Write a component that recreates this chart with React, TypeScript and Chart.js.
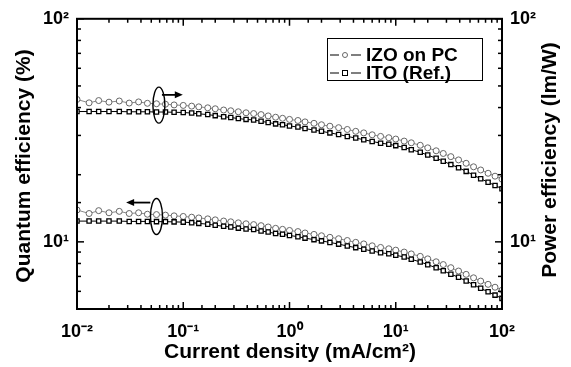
import React, { useEffect, useRef } from "react";
import { Chart, registerables } from "chart.js";
Chart.register(...registerables);

// Current density (mA/cm2)
const currentDensity = [
  0.010, 0.013, 0.016, 0.020, 0.025, 0.031, 0.038, 0.046, 0.056, 0.068, 0.082,
  0.10, 0.12, 0.14, 0.17, 0.20, 0.24, 0.28, 0.33, 0.39,
  0.46, 0.54, 0.63, 0.74, 0.86,
  1.0, 1.2, 1.4, 1.7, 2.0,
  2.4, 2.9, 3.5, 4.2, 5.0,
  6.0, 7.2, 8.6, 10, 12,
  14, 17, 20, 24, 28,
  33, 39, 46, 54, 63,
  74, 86, 100,
];

// Power efficiency (lm/W), right axis
const powerIZO = [
  43.5, 42.0, 43.0, 42.3, 42.8, 41.9, 42.4, 41.8, 41.6, 41.4, 41.1,
  40.9, 40.6, 40.3, 39.9, 39.5, 39.0, 38.7, 38.3, 37.9,
  37.6, 37.2, 36.7, 36.2, 35.8,
  35.4, 35.0, 34.5, 34.0, 33.5,
  33.0, 32.5, 31.9, 31.3, 30.8,
  30.2, 29.7, 29.3, 28.9, 28.3,
  27.8, 27.1, 26.4, 25.6, 24.9,
  24.1, 23.3, 22.5, 21.7, 21.0,
  20.3, 19.7, 19.1,
];
const powerITO = [
  38.4, 38.4, 38.4, 38.4, 38.4, 38.3, 38.3, 38.3, 38.2, 38.2, 38.1,
  38.0, 37.8, 37.5, 37.2, 36.8, 36.4, 36.1, 35.7, 35.4,
  35.2, 34.7, 34.3, 33.8, 33.5,
  33.1, 32.7, 32.2, 31.7, 31.3,
  30.8, 30.3, 29.7, 29.2, 28.7,
  28.2, 27.7, 27.4, 27.0, 26.5,
  25.9, 25.2, 24.5, 23.7, 23.0,
  22.2, 21.5, 20.7, 19.9, 19.2,
  18.5, 17.9, 17.3,
];

// Quantum efficiency (%), left axis
const quantumIZO = [
  13.9, 13.4, 13.8, 13.5, 13.7, 13.4, 13.5, 13.3, 13.25, 13.18, 13.08,
  13.0, 12.9, 12.8, 12.68, 12.55, 12.4, 12.3, 12.17, 12.05,
  11.95, 11.82, 11.66, 11.5, 11.38,
  11.25, 11.12, 10.96, 10.8, 10.65,
  10.48, 10.33, 10.14, 9.95, 9.79,
  9.6, 9.44, 9.31, 9.18, 9.0,
  8.83, 8.61, 8.39, 8.14, 7.91,
  7.66, 7.4, 7.15, 6.9, 6.67,
  6.45, 6.26, 6.07,
];
const quantumITO = [
  12.39, 12.39, 12.39, 12.39, 12.39, 12.35, 12.35, 12.35, 12.32, 12.32, 12.29,
  12.26, 12.19, 12.10, 12.00, 11.87, 11.74, 11.65, 11.52, 11.42,
  11.35, 11.19, 11.06, 10.90, 10.81,
  10.68, 10.55, 10.39, 10.23, 10.10,
  9.94, 9.77, 9.58, 9.42, 9.26,
  9.10, 8.94, 8.84, 8.71, 8.55,
  8.35, 8.13, 7.90, 7.65, 7.42,
  7.16, 6.94, 6.68, 6.42, 6.19,
  5.97, 5.77, 5.58,
];

const xDecadeLabels: Record<string, string> = {
  "-2": "10\u207B\u00B2",
  "-1": "10\u207B\u00B9",
  "0": "10\u2070",
  "1": "10\u00B9",
  "2": "10\u00B2",
};
const yDecadeLabels: Record<string, string> = {
  "1": "10\u00B9",
  "2": "10\u00B2",
};

const seriesNames = ["IZO on PC", "ITO (Ref.)"];
const xTitle = "Current density (mA/cm\u00B2)";
const yLeftTitle = "Quantum efficiency (%)";
const yRightTitle = "Power efficiency (lm/W)";

// annotation anchors in data units
const ellipses = [
  { x: 0.059, y: 41, axis: "y2" },
  { x: 0.056, y: 13.0, axis: "y" },
];
const arrows = [
  { x0: 0.063, x1: 0.099, y: 45.6, axis: "y2" },
  { x0: 0.049, x1: 0.029, y: 15.0, axis: "y" },
];

const FONT = "'Liberation Sans', Arial, Helvetica, sans-serif";

function decadeLabel(map: Record<string, string>) {
  return (value: any) => {
    const v = Number(value);
    const e = Math.log10(v);
    const r = Math.round(e);
    if (Math.abs(e - r) < 1e-6 && map[String(r)] !== undefined) return map[String(r)];
    return "";
  };
}

const decorPlugin = {
  id: "decor",
  afterDraw(chart: any) {
    const ctx = chart.ctx as CanvasRenderingContext2D;
    const a = chart.chartArea;
    const xs = chart.scales.x;
    const yl = chart.scales.y;
    const yr = chart.scales.y2;
    ctx.save();
    ctx.strokeStyle = "#000";
    ctx.fillStyle = "#000";

    // ticks (inward)
    ctx.lineWidth = 1.5;
    const isMajor = (v: number) => {
      const e = Math.log10(v);
      return Math.abs(e - Math.round(e)) < 1e-6;
    };
    xs.ticks.forEach((t: any) => {
      const px = xs.getPixelForValue(t.value);
      const len = isMajor(t.value) ? 7 : 4;
      ctx.beginPath();
      ctx.moveTo(px, a.bottom);
      ctx.lineTo(px, a.bottom - len);
      ctx.moveTo(px, a.top);
      ctx.lineTo(px, a.top + len);
      ctx.stroke();
    });
    yl.ticks.forEach((t: any) => {
      const py = yl.getPixelForValue(t.value);
      const len = isMajor(t.value) ? 7 : 4;
      ctx.beginPath();
      ctx.moveTo(a.left, py);
      ctx.lineTo(a.left + len, py);
      ctx.stroke();
    });
    yr.ticks.forEach((t: any) => {
      const py = yr.getPixelForValue(t.value);
      const len = isMajor(t.value) ? 7 : 4;
      ctx.beginPath();
      ctx.moveTo(a.right, py);
      ctx.lineTo(a.right - len, py);
      ctx.stroke();
    });

    // frame
    ctx.lineWidth = 2;
    ctx.strokeRect(a.left, a.top, a.right - a.left, a.bottom - a.top);

    // axis titles
    ctx.font = `bold 21px ${FONT}`;
    ctx.textAlign = "center";
    ctx.textBaseline = "middle";
    ctx.fillText(xTitle, 290, 352);
    ctx.save();
    ctx.translate(24, 166);
    ctx.rotate(-Math.PI / 2);
    ctx.fillText(yLeftTitle, 0, 0);
    ctx.restore();
    ctx.save();
    ctx.translate(550, 160);
    ctx.rotate(-Math.PI / 2);
    ctx.fillText(yRightTitle, 0, 0);
    ctx.restore();

    // legend
    ctx.lineWidth = 1;
    ctx.strokeRect(327.5, 38.5, 155, 42);
    const rows = [55, 73];
    rows.forEach((ry, i) => {
      ctx.lineWidth = 1.2;
      ctx.strokeStyle = "#000";
      ctx.beginPath();
      ctx.moveTo(330, ry);
      ctx.lineTo(339, ry);
      ctx.moveTo(351, ry);
      ctx.lineTo(361, ry);
      ctx.stroke();
      if (i === 0) {
        ctx.strokeStyle = "#666";
        ctx.lineWidth = 1;
        ctx.beginPath();
        ctx.arc(345, ry, 2.5, 0, Math.PI * 2);
        ctx.stroke();
      } else {
        ctx.strokeStyle = "#000";
        ctx.lineWidth = 1;
        ctx.strokeRect(342.5, ry - 2.5, 5, 5);
      }
      ctx.fillStyle = "#000";
      ctx.font = `bold 19px ${FONT}`;
      ctx.textAlign = "left";
      ctx.textBaseline = "middle";
      ctx.fillText(seriesNames[i], 366, ry + 1);
    });

    // ellipses and arrows
    ctx.strokeStyle = "#000";
    ctx.lineWidth = 1.4;
    ellipses.forEach((e) => {
      const sc = chart.scales[e.axis];
      const cx = xs.getPixelForValue(e.x);
      const cy = sc.getPixelForValue(e.y);
      ctx.beginPath();
      ctx.ellipse(cx, cy, 6, 18, 0, 0, Math.PI * 2);
      ctx.stroke();
    });
    arrows.forEach((ar) => {
      const sc = chart.scales[ar.axis];
      const x0 = xs.getPixelForValue(ar.x0);
      const x1 = xs.getPixelForValue(ar.x1);
      const y = sc.getPixelForValue(ar.y);
      const dir = x1 > x0 ? 1 : -1;
      ctx.lineWidth = 1.8;
      ctx.beginPath();
      ctx.moveTo(x0, y);
      ctx.lineTo(x1 - dir * 5, y);
      ctx.stroke();
      ctx.beginPath();
      ctx.moveTo(x1, y);
      ctx.lineTo(x1 - dir * 8, y - 3.5);
      ctx.lineTo(x1 - dir * 8, y + 3.5);
      ctx.closePath();
      ctx.fill();
    });
    ctx.restore();
  },
};

export default function App() {
  const ref = useRef<HTMLCanvasElement>(null);
  useEffect(() => {
    if (!ref.current) return;
    const mk = (ys: number[]) => currentDensity.map((x, i) => ({ x, y: ys[i] }));
    const circle = {
      pointStyle: "circle",
      pointRadius: 3,
      pointBorderWidth: 1,
      pointBorderColor: "#666",
      pointBackgroundColor: "#fff",
      borderColor: "#888",
      borderWidth: 1,
      showLine: true,
      order: 1,
    };
    const square = {
      pointStyle: "rect",
      pointRadius: 3,
      pointBorderWidth: 1.3,
      pointBorderColor: "#000",
      pointBackgroundColor: "#fff",
      borderColor: "#000",
      borderWidth: 1,
      showLine: true,
      order: 0,
    };
    const tickFont = { family: FONT, size: 18, weight: "bold" };
    const chart = new Chart(ref.current, {
      type: "line",
      data: {
        datasets: [
          { label: "IZO on PC PE", data: mk(powerIZO), yAxisID: "y2", ...circle } as any,
          { label: "ITO (Ref.) PE", data: mk(powerITO), yAxisID: "y2", ...square } as any,
          { label: "IZO on PC QE", data: mk(quantumIZO), yAxisID: "y", ...circle } as any,
          { label: "ITO (Ref.) QE", data: mk(quantumITO), yAxisID: "y", ...square } as any,
        ],
      },
      options: {
        animation: false,
        responsive: false,
        devicePixelRatio: 1,
        layout: { padding: { top: 16, left: 0, right: 0, bottom: 0 } },
        plugins: { legend: { display: false }, tooltip: { enabled: false } },
        scales: {
          x: {
            type: "logarithmic",
            min: 0.01,
            max: 100,
            position: "bottom",
            grid: { display: false, drawTicks: false },
            border: { display: false },
            ticks: {
              autoSkip: false,
              maxRotation: 0,
              padding: 12,
              color: "#000",
              font: tickFont,
              callback: decadeLabel(xDecadeLabels),
            },
            afterFit: (s: any) => {
              s.height = 58;
            },
          },
          y: {
            type: "logarithmic",
            min: 5,
            max: 100,
            position: "left",
            grid: { display: false, drawTicks: false },
            border: { display: false },
            ticks: {
              autoSkip: false,
              padding: 8,
              color: "#000",
              font: tickFont,
              callback: decadeLabel(yDecadeLabels),
            },
            afterFit: (s: any) => {
              s.width = 77;
            },
          },
          y2: {
            type: "logarithmic",
            min: 5,
            max: 100,
            position: "right",
            grid: { display: false, drawTicks: false },
            border: { display: false },
            ticks: {
              autoSkip: false,
              padding: 8,
              color: "#000",
              font: tickFont,
              callback: decadeLabel(yDecadeLabels),
            },
            afterFit: (s: any) => {
              s.width = 69;
            },
          },
        },
      } as any,
      plugins: [decorPlugin],
    });
    return () => chart.destroy();
  }, []);
  return (
    <div style={{ position: "fixed", left: 0, top: 0, width: 571, height: 367, background: "#fff" }}>
      <canvas ref={ref} width={571} height={367} />
    </div>
  );
}
